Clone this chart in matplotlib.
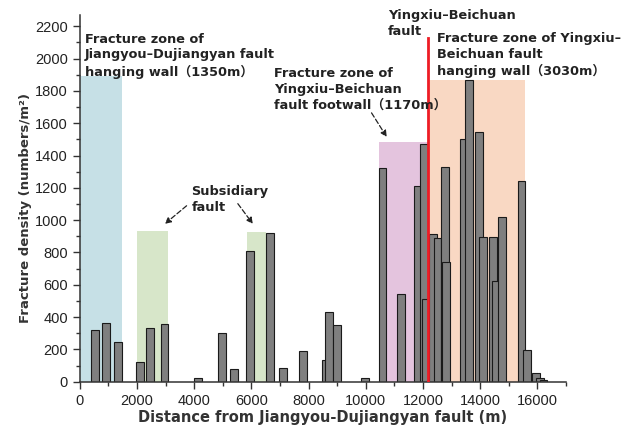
import matplotlib

matplotlib.use("Agg")

import matplotlib.pyplot as plt
from matplotlib.ticker import MultipleLocator

plt.rcParams["font.family"] = ["Liberation Sans", "DejaVu Sans",
                               "Noto Sans CJK SC"]

# bar centres (m) and fracture density (numbers/m2), in drawing order
bar_x = [536, 903, 1346, 2098, 2453, 2960, 4143, 4970, 5400, 5940, 6650,
         7116, 7791, 8608, 8723, 8997, 9983, 10580, 11220, 11830, 12040,
         12100, 12340, 12510, 12774, 12800, 13420, 13620, 13950, 14090,
         14440, 14547, 14765, 15444, 15630, 15950, 16080, 16210]
bar_y = [320, 365, 243, 122, 332, 355, 25, 299, 78, 810, 922,
         87, 188, 132, 434, 353, 23, 1321, 543, 1212, 1470,
         510, 913, 888, 1331, 743, 1501, 1868, 1546, 898,
         898, 624, 1022, 1245, 198, 52, 25, 12]

# shaded fracture zones: start, end, height, colour
zone_start = [0, 2005, 5828, 10455, 12180]
zone_end = [1480, 3088, 6504, 12180, 15584]
zone_top = [1890, 932, 926, 1486, 1868]
zone_color = ["#c6e0e6", "#d7e6c9", "#d7e6c9", "#e4c4de", "#f9d8c3"]

fault_x = 12180
fault_top = 2130

fig = plt.figure(figsize=(6.24, 4.34), dpi=100)
ax = fig.add_axes([0.128, 0.1205, 0.779, 0.845])

for x0, x1, top, color in zip(zone_start, zone_end, zone_top, zone_color):
    ax.fill_between([x0, x1], 0, top, color=color, lw=0, zorder=1)

ax.bar(bar_x, bar_y, width=270, color="#7f7f7f", edgecolor="#1a1a1a",
       linewidth=0.8, zorder=2)

ax.plot([fault_x, fault_x], [0, fault_top], color="#ee1c25", lw=2, zorder=3)

ax.set_xlim(0, 17000)
ax.set_ylim(0, 2270)
ax.xaxis.set_major_locator(MultipleLocator(2000))
ax.xaxis.set_minor_locator(MultipleLocator(1000))
ax.yaxis.set_minor_locator(MultipleLocator(100))
ax.set_yticks(range(0, 2201, 200))
for side in ("top", "right"):
    ax.spines[side].set_visible(False)
for side in ("left", "bottom"):
    ax.spines[side].set_color("#333333")
    ax.spines[side].set_linewidth(1.1)
ax.tick_params(which="major", length=5, width=1, color="#333333",
               labelsize=10.5, labelcolor="#222222")
ax.tick_params(which="minor", length=3, width=1, color="#333333")

label_font = ["DejaVu Sans", "Noto Sans CJK SC"]
ax.set_xlabel("Distance from Jiangyou-Dujiangyan fault (m)", fontsize=10.5,
              fontweight="bold", color="#333333", labelpad=2,
              family=label_font)
ax.set_ylabel("Fracture density (numbers/m²)", fontsize=9.5,
              fontweight="bold", color="#333333", family=label_font)
ax.yaxis.set_label_coords(-0.098, 0.474)

text_style = dict(fontsize=9.3, fontweight="bold", color="#222222",
                  va="top", ha="left", linespacing=1.27, zorder=5,
                  family=label_font)
ax.text(175, 2160, "Fracture zone of\nJiangyou–Dujiangyan fault\n"
        "hanging wall（1350m）", **text_style)
# fault name sits above the axes, one line per text
ax.text(10769, 2305, "Yingxiu–Beichuan", clip_on=False, **text_style)
ax.text(10769, 2207, "fault", clip_on=False, **text_style)
ax.text(12483, 2163, "Fracture zone of Yingxiu–\nBeichuan fault\n"
        "hanging wall（3030m）", **text_style)
ax.text(6783, 1945, "Fracture zone of\nYingxiu–Beichuan\n"
        "fault footwall（1170m）", **text_style)
ax.text(3906, 1215, "Subsidiary\nfault", **text_style)

arrow = dict(arrowstyle="-|>", color="#222222", lw=0.9, linestyle=(0, (4, 2)),
             mutation_scale=9, shrinkA=0, shrinkB=0)
ax.annotate("", xy=(2972, 977), xytext=(3732, 1089), arrowprops=arrow)
ax.annotate("", xy=(6049, 977), xytext=(5524, 1102), arrowprops=arrow)
ax.annotate("", xy=(10731, 1515), xytext=(10200, 1664), arrowprops=arrow)

fig.savefig("out.png", dpi=100)
